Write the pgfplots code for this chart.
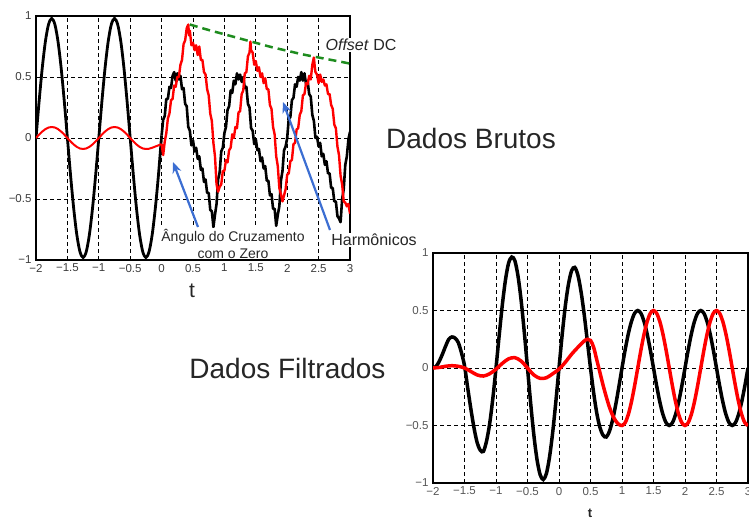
\documentclass[border=0pt]{standalone}
\usepackage{pgfplots}
\pgfplotsset{compat=1.18}
\usepackage{fontspec}
\setmainfont{Liberation Sans}
\usetikzlibrary{arrows.meta}
\definecolor{tickgray}{RGB}{60,60,60}
\definecolor{tickgrayb}{RGB}{85,85,85}
\definecolor{myred}{RGB}{255,0,0}
\definecolor{mygreen}{RGB}{30,140,30}
\definecolor{myblue}{RGB}{60,110,210}
\pgfplotsset{
  mystyle/.style={
    scale only axis,
    xmin=-2, xmax=3, ymin=-1, ymax=1,
    xtick={-2,-1.5,-1,-0.5,0,0.5,1,1.5,2,2.5,3},
    xticklabels={−2,−1.5,−1,−0.5,0,0.5,1,1.5,2,2.5,3},
    ytick={-1,-0.5,0,0.5,1},
    yticklabels={−1,−0.5,0,0.5,1},
    grid=major,
    major grid style={black, line width=0.9pt, dash pattern=on 4pt off 3pt},
    axis line style={black, line width=2pt},
    major tick length=0pt,
    tick style={draw=none},
    tick label style={font=\fontsize{11.5}{13}\selectfont},
    xticklabel style={yshift=-0.5pt},
    yticklabel style={xshift=-1pt},
  }
}
\begin{document}
\begin{tikzpicture}
\path[use as bounding box] (0,0) rectangle (749pt,519pt);
% ---------------- top axis (raw data) ----------------
\begin{axis}[mystyle, at={(36pt,259pt)}, anchor=south west,
  width=314pt, height=244pt,
  tick label style={text=tickgray}]
% black sine, t<0
\addplot[black, line width=2.8pt, smooth] coordinates {
(-2,0) (-1.95,0.303) (-1.9,0.576) (-1.85,0.793) (-1.8,0.932) (-1.75,0.98)
(-1.7,0.932) (-1.65,0.793) (-1.6,0.576) (-1.55,0.303) (-1.5,0)
(-1.45,-0.303) (-1.4,-0.576) (-1.35,-0.793) (-1.3,-0.932) (-1.25,-0.98)
(-1.2,-0.932) (-1.15,-0.793) (-1.1,-0.576) (-1.05,-0.303) (-1,0)
(-0.95,0.303) (-0.9,0.576) (-0.85,0.793) (-0.8,0.932) (-0.75,0.98)
(-0.7,0.932) (-0.65,0.793) (-0.6,0.576) (-0.55,0.303) (-0.5,0)
(-0.45,-0.303) (-0.4,-0.576) (-0.35,-0.793) (-0.3,-0.932) (-0.25,-0.98)
(-0.2,-0.932) (-0.15,-0.793) (-0.1,-0.576) (-0.05,-0.303) (0,0.02)
};
% black noisy, t>=0
\addplot[black, line width=2.6pt, line join=round] coordinates {
(0.000,0.02) (0.025,0.15) (0.050,0.18) (0.075,0.32) (0.100,0.32) (0.125,0.42)
(0.150,0.41) (0.175,0.51) (0.200,0.54) (0.225,0.47) (0.250,0.53) (0.275,0.48)
(0.300,0.51) (0.325,0.40) (0.350,0.41) (0.375,0.28) (0.400,0.26) (0.425,0.09)
(0.450,0.06) (0.475,-0.06) (0.500,-0.02) (0.525,-0.11) (0.550,-0.08) (0.575,-0.17)
(0.600,-0.15) (0.625,-0.26) (0.650,-0.25) (0.675,-0.36) (0.700,-0.34) (0.725,-0.45)
(0.750,-0.45) (0.775,-0.59) (0.800,-0.60) (0.825,-0.73) (0.850,-0.63) (0.875,-0.54)
(0.900,-0.34) (0.925,-0.28) (0.950,-0.11) (0.975,-0.08)
(1.000,0.04) (1.025,0.09) (1.050,0.23) (1.075,0.26) (1.100,0.39) (1.125,0.37)
(1.150,0.47) (1.175,0.44) (1.200,0.53) (1.225,0.48) (1.250,0.52) (1.275,0.46)
(1.300,0.50) (1.325,0.41) (1.350,0.42) (1.375,0.28) (1.400,0.25) (1.425,0.08)
(1.450,0.06) (1.475,-0.05) (1.500,-0.01) (1.525,-0.10) (1.550,-0.09) (1.575,-0.19)
(1.600,-0.16) (1.625,-0.25) (1.650,-0.23) (1.675,-0.35) (1.700,-0.35) (1.725,-0.47)
(1.750,-0.46) (1.775,-0.58) (1.800,-0.58) (1.825,-0.72) (1.850,-0.63) (1.875,-0.56)
(1.900,-0.35) (1.925,-0.27) (1.950,-0.10) (1.975,-0.07)
(2.000,0.00) (2.025,0.16) (2.050,0.17) (2.075,0.31) (2.100,0.33) (2.125,0.44)
(2.150,0.42) (2.175,0.50) (2.200,0.47) (2.225,0.54) (2.250,0.47) (2.275,0.53)
(2.300,0.44) (2.325,0.47) (2.350,0.36) (2.375,0.34) (2.400,0.19) (2.425,0.14)
(2.450,0.00) (2.475,0.01) (2.500,-0.07) (2.525,-0.04) (2.550,-0.15) (2.575,-0.13)
(2.600,-0.22) (2.625,-0.19) (2.650,-0.29) (2.675,-0.29) (2.700,-0.41) (2.725,-0.41)
(2.750,-0.52) (2.775,-0.52) (2.800,-0.64) (2.825,-0.66) (2.850,-0.69) (2.875,-0.50)
(2.900,-0.42) (2.925,-0.22) (2.950,-0.15) (2.975,-0.01) (3.000,0.05)
};
% red sine, t<0
\addplot[myred, line width=2pt, smooth] coordinates {
(-2,0) (-1.95,0.028) (-1.9,0.053) (-1.85,0.073) (-1.8,0.086) (-1.75,0.09)
(-1.7,0.086) (-1.65,0.073) (-1.6,0.053) (-1.55,0.028) (-1.5,0)
(-1.45,-0.028) (-1.4,-0.053) (-1.35,-0.073) (-1.3,-0.086) (-1.25,-0.09)
(-1.2,-0.086) (-1.15,-0.073) (-1.1,-0.053) (-1.05,-0.028) (-1,0)
(-0.95,0.028) (-0.9,0.053) (-0.85,0.073) (-0.8,0.086) (-0.75,0.09)
(-0.7,0.086) (-0.65,0.073) (-0.6,0.053) (-0.55,0.028) (-0.5,0)
(-0.45,-0.028) (-0.4,-0.053) (-0.35,-0.073) (-0.3,-0.086) (-0.25,-0.09)
(-0.2,-0.088) (-0.15,-0.08) (-0.1,-0.07) (-0.05,-0.06) (0,-0.05)
};
% red noisy, t>=0
\addplot[myred, line width=2.4pt, line join=round] coordinates {
(0.000,-0.05) (0.025,-0.14) (0.050,-0.03) (0.075,0.04) (0.100,0.16) (0.125,0.20)
(0.150,0.31) (0.175,0.32) (0.200,0.43) (0.225,0.42) (0.250,0.50) (0.275,0.50)
(0.300,0.60) (0.325,0.64) (0.350,0.77) (0.375,0.80) (0.400,0.90) (0.425,0.93)
(0.437,0.84) (0.450,0.88) (0.475,0.76) (0.500,0.78) (0.525,0.72) (0.550,0.76)
(0.575,0.68) (0.600,0.75) (0.625,0.64) (0.650,0.64) (0.675,0.54) (0.700,0.52)
(0.725,0.40) (0.750,0.35) (0.775,0.20) (0.800,0.14) (0.825,-0.04) (0.850,-0.15)
(0.875,-0.38) (0.900,-0.44) (0.925,-0.40) (0.950,-0.38) (0.975,-0.27)
(1.000,-0.27) (1.025,-0.18) (1.050,-0.20) (1.075,-0.10) (1.100,-0.08) (1.125,0.03)
(1.150,0.00) (1.175,0.09) (1.200,0.08) (1.225,0.21) (1.250,0.22) (1.275,0.36)
(1.300,0.39) (1.325,0.53) (1.350,0.54) (1.375,0.67) (1.400,0.70) (1.415,0.79)
(1.425,0.72) (1.450,0.70) (1.475,0.60) (1.500,0.63) (1.525,0.55) (1.550,0.58)
(1.575,0.50) (1.600,0.53) (1.625,0.45) (1.650,0.49) (1.675,0.40) (1.700,0.40)
(1.725,0.27) (1.750,0.24) (1.775,0.09) (1.800,0.03) (1.825,-0.15) (1.850,-0.23)
(1.875,-0.41) (1.900,-0.46) (1.925,-0.52) (1.950,-0.47) (1.975,-0.42)
(2.000,-0.30) (2.025,-0.29) (2.050,-0.19) (2.075,-0.18) (2.100,-0.05) (2.125,-0.04)
(2.150,0.07) (2.175,0.08) (2.200,0.19) (2.225,0.22) (2.250,0.35) (2.275,0.36)
(2.300,0.45) (2.325,0.44) (2.350,0.51) (2.375,0.48) (2.400,0.60) (2.425,0.66)
(2.440,0.58) (2.450,0.54) (2.475,0.52) (2.500,0.45) (2.525,0.52) (2.550,0.46)
(2.575,0.48) (2.600,0.43) (2.625,0.44) (2.650,0.36) (2.675,0.36) (2.700,0.27)
(2.725,0.24) (2.750,0.11) (2.775,0.08) (2.800,-0.07) (2.825,-0.14) (2.850,-0.31)
(2.875,-0.38) (2.900,-0.52) (2.925,-0.53) (2.950,-0.56) (2.975,-0.54) (3.000,-0.62)
};
% DC offset envelope
\addplot[mygreen, line width=2.5pt, dash pattern=on 8pt off 5pt, smooth] coordinates {
(0.45,0.93) (0.75,0.885) (1.0,0.85) (1.25,0.815) (1.5,0.78) (1.75,0.745)
(2.0,0.715) (2.25,0.685) (2.5,0.66) (2.75,0.635) (3.0,0.61)
};
\end{axis}
% ---------------- bottom axis (filtered data) ----------------
\begin{axis}[mystyle, at={(433pt,36pt)}, anchor=south west,
  width=315pt, height=230pt,
  tick label style={text=tickgrayb}]
\addplot[black, line width=3.5pt, smooth] coordinates {
(-2.00,0) (-1.95,0.015) (-1.90,0.059) (-1.85,0.121) (-1.80,0.19) (-1.75,0.25)
(-1.70,0.27) (-1.65,0.26) (-1.60,0.223) (-1.55,0.136) (-1.50,0.02)
(-1.45,-0.17) (-1.40,-0.353) (-1.35,-0.518) (-1.30,-0.647) (-1.25,-0.715)
(-1.20,-0.725) (-1.15,-0.635) (-1.10,-0.482) (-1.05,-0.263) (-1.00,0)
(-0.95,0.28) (-0.90,0.547) (-0.85,0.765) (-0.80,0.913) (-0.75,0.965)
(-0.70,0.932) (-0.65,0.797) (-0.60,0.582) (-0.55,0.306) (-0.50,0)
(-0.45,-0.306) (-0.40,-0.579) (-0.35,-0.793) (-0.30,-0.927) (-0.25,-0.97)
(-0.20,-0.918) (-0.15,-0.773) (-0.10,-0.559) (-0.05,-0.292) (0.00,0)
(0.05,0.287) (0.10,0.538) (0.15,0.728) (0.20,0.846) (0.25,0.875)
(0.30,0.808) (0.35,0.663) (0.40,0.465) (0.45,0.233) (0.50,0)
(0.55,-0.216) (0.60,-0.394) (0.65,-0.518) (0.70,-0.585) (0.75,-0.6)
(0.80,-0.552) (0.85,-0.453) (0.90,-0.32) (0.95,-0.164) (1.00,0)
(1.05,0.158) (1.10,0.297) (1.15,0.405) (1.20,0.476) (1.25,0.5)
(1.30,0.476) (1.35,0.405) (1.40,0.294) (1.45,0.155) (1.50,0)
(1.55,-0.155) (1.60,-0.294) (1.65,-0.405) (1.70,-0.476) (1.75,-0.5)
(1.80,-0.476) (1.85,-0.405) (1.90,-0.294) (1.95,-0.155) (2.00,0)
(2.05,0.155) (2.10,0.294) (2.15,0.405) (2.20,0.476) (2.25,0.5)
(2.30,0.476) (2.35,0.405) (2.40,0.294) (2.45,0.155) (2.50,0)
(2.55,-0.155) (2.60,-0.294) (2.65,-0.405) (2.70,-0.476) (2.75,-0.5)
(2.80,-0.476) (2.85,-0.405) (2.90,-0.294) (2.95,-0.155) (3.00,0)
};
\addplot[myred, line width=3.5pt, smooth] coordinates {
(-2.0,0) (-1.9,0.005) (-1.8,0.015) (-1.7,0.02) (-1.6,0.015) (-1.5,0.0)
(-1.4,-0.03) (-1.3,-0.06) (-1.2,-0.07) (-1.1,-0.05) (-1.0,-0.01)
(-0.9,0.04) (-0.8,0.08) (-0.7,0.09) (-0.6,0.06) (-0.5,0.0)
(-0.4,-0.06) (-0.3,-0.09) (-0.2,-0.085) (-0.1,-0.05) (0.0,-0.01)
(0.1,0.05) (0.2,0.12) (0.3,0.18) (0.4,0.235) (0.45,0.25) (0.5,0.24)
(0.55,0.18) (0.6,0.07) (0.65,-0.04) (0.7,-0.15) (0.75,-0.25) (0.8,-0.34)
(0.85,-0.41) (0.9,-0.46) (0.95,-0.49) (1.0,-0.5)
(1.05,-0.476) (1.10,-0.405) (1.15,-0.294) (1.20,-0.155) (1.25,0)
(1.30,0.155) (1.35,0.294) (1.40,0.405) (1.45,0.476) (1.50,0.5)
(1.55,0.476) (1.60,0.405) (1.65,0.294) (1.70,0.155) (1.75,0)
(1.80,-0.155) (1.85,-0.294) (1.90,-0.405) (1.95,-0.476) (2.00,-0.5)
(2.05,-0.476) (2.10,-0.405) (2.15,-0.294) (2.20,-0.155) (2.25,0)
(2.30,0.155) (2.35,0.294) (2.40,0.405) (2.45,0.476) (2.50,0.5)
(2.55,0.476) (2.60,0.405) (2.65,0.294) (2.70,0.155) (2.75,0)
(2.80,-0.155) (2.85,-0.294) (2.90,-0.405) (2.95,-0.476) (3.00,-0.5)
};
\end{axis}
% ---------------- annotations ----------------
\draw[myblue, line width=2.2pt, -{Stealth[length=11pt,width=9pt]}] (198pt,292pt) -- (173pt,357pt);
\draw[myblue, line width=2.2pt, -{Stealth[length=11pt,width=9pt]}] (330pt,289pt) -- (283pt,417pt);
\node[fill=white, inner sep=1pt, align=center, font=\fontsize{14}{17}\selectfont, text=black!85] at (233pt,275.5pt) {Ângulo do Cruzamento\\com o Zero};
\node[fill=white, inner sep=1pt, font=\fontsize{16}{18}\selectfont, text=black!85] at (374pt,279pt) {Harmônicos};
\node[fill=white, inner sep=1pt, font=\fontsize{16}{18}\selectfont, text=black!85] at (361pt,474pt) {\textit{Offset} DC};
\node[font=\fontsize{28}{32}\selectfont, text=black!85] at (471pt,381pt) {Dados Brutos};
\node[font=\fontsize{28}{32}\selectfont, text=black!85] at (287.5pt,151pt) {Dados Filtrados};
\node[font=\fontsize{21}{24}\selectfont, text=black!85] at (192pt,228pt) {t};
\node[font=\bfseries\fontsize{13}{15}\selectfont, text=black!85] at (590pt,6pt) {t};
\end{tikzpicture}
\end{document}
